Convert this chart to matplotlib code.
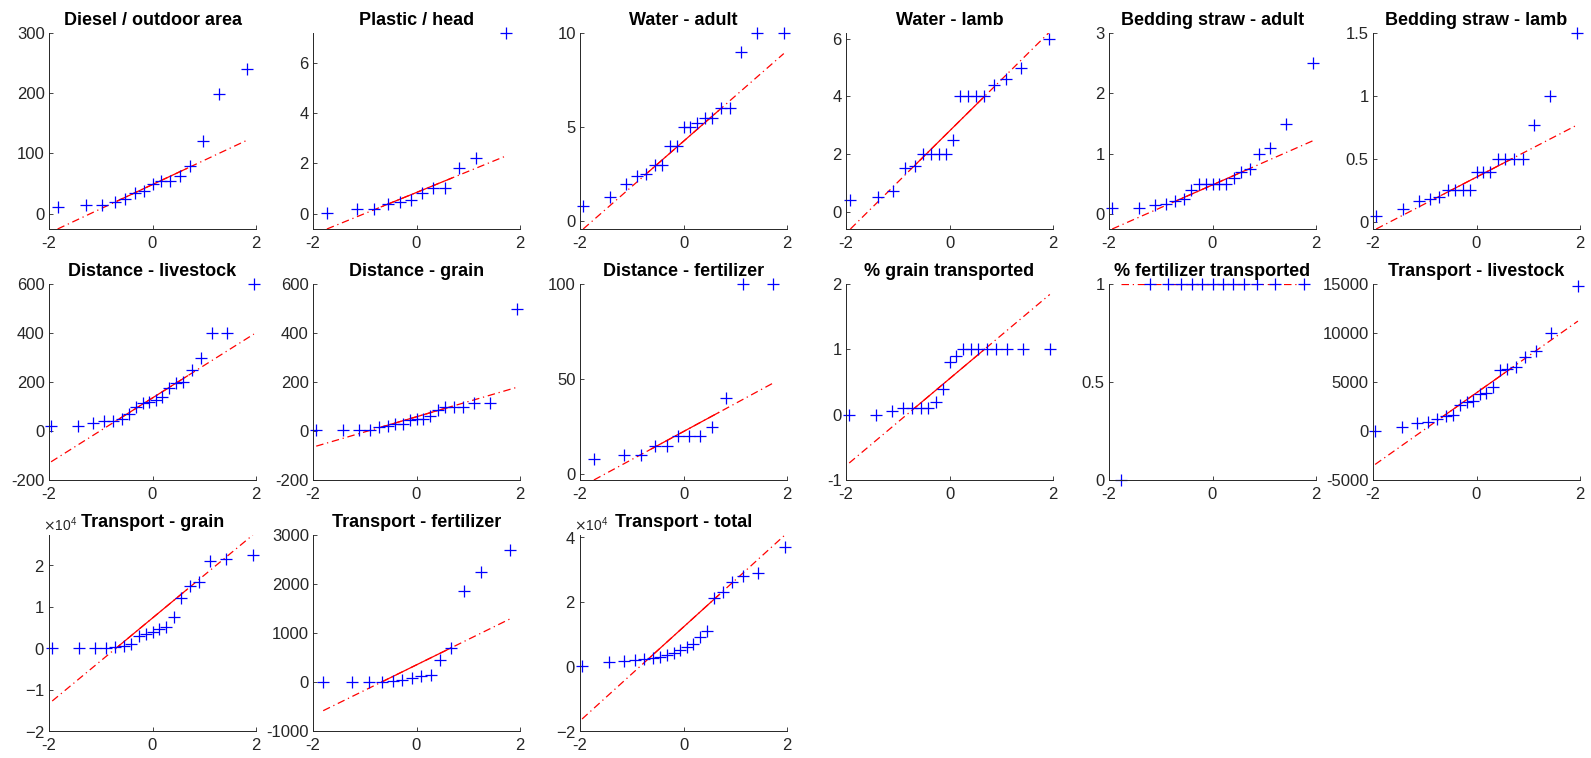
from statistics import NormalDist

import numpy as np
import matplotlib
matplotlib.use("Agg")
import matplotlib.pyplot as plt
from matplotlib.ticker import ScalarFormatter, FuncFormatter

plt.rcParams["font.family"] = ["Liberation Sans", "DejaVu Sans"]
plt.rcParams["axes.unicode_minus"] = False

# ---- survey values, one list per variable ----
diesel_outdoor = [12, 14, 15, 20, 25, 35, 37, 49, 54, 55, 63, 80, 120, 198, 240]
plastic_head = [0.04, 0.17, 0.17, 0.37, 0.47, 0.56, 0.83, 1.03, 1.03, 1.8, 2.2, 7.2]
water_adult = [0.8, 1.3, 2.0, 2.4, 2.5, 3.0, 3.0, 4.0, 4.0, 5.0, 5.0, 5.2, 5.5, 5.5,
               6.0, 6.0, 9.0, 10, 10]
water_lamb = [0.4, 0.5, 0.7, 1.5, 1.6, 2.0, 2.0, 2.0, 2.0, 2.5, 4.0, 4.0, 4.0, 4.0,
              4.4, 4.6, 5.0, 6.0]
straw_adult = [0.1, 0.1, 0.15, 0.17, 0.22, 0.25, 0.4, 0.5, 0.5, 0.5, 0.5, 0.5, 0.6,
               0.7, 0.75, 1.0, 1.1, 1.5, 2.5]
straw_lamb = [0.05, 0.1, 0.17, 0.18, 0.2, 0.25, 0.25, 0.25, 0.25, 0.4, 0.4, 0.4,
              0.5, 0.5, 0.5, 0.5, 0.77, 1.0, 1.5]
dist_livestock = [22, 22, 32, 40, 40, 50, 70, 100, 115, 120, 125, 140, 175, 195, 200,
                  250, 300, 400, 400, 600]
dist_grain = [5, 5, 5, 5, 15, 20, 27, 30, 43, 47, 48, 60, 85, 100, 100, 100, 115, 115,
              500]
dist_fertilizer = [8, 10, 10, 15, 15, 20, 20, 20, 25, 40, 100, 100]
pct_grain = [0, 0, 0.05, 0.1, 0.1, 0.1, 0.1, 0.2, 0.4, 0.8, 0.9, 1, 1, 1, 1, 1, 1, 1, 1]
pct_fertilizer = [0, 1, 1, 1, 1, 1, 1, 1, 1, 1, 1, 1, 1]
transp_livestock = [0, 450, 850, 950, 1200, 1550, 1600, 2700, 3000, 3050, 3800, 3900,
                    4500, 6200, 6350, 6500, 7600, 8200, 10000, 14800]
transp_grain = [0, 0, 50, 100, 200, 500, 1000, 3000, 3500, 4000, 4500, 5000, 7500,
                12000, 15000, 16000, 21000, 21500, 22500]
transp_fertilizer = [0, 0, 0, 0, 20, 50, 80, 120, 150, 450, 700, 1850, 2250, 2700]
transp_total = [0, 1500, 1800, 2000, 2200, 2500, 3000, 3500, 4000, 5000, 6000, 7000,
                9000, 11000, 21000, 23000, 26000, 28000, 29000, 37000]

titles = [
    "Diesel / outdoor area", "Plastic / head", "Water - adult", "Water - lamb",
    "Bedding straw - adult", "Bedding straw - lamb",
    "Distance - livestock", "Distance - grain", "Distance - fertilizer",
    "% grain transported", "% fertilizer transported", "Transport - livestock",
    "Transport - grain", "Transport - fertilizer", "Transport - total",
]
series = [
    diesel_outdoor, plastic_head, water_adult, water_lamb, straw_adult, straw_lamb,
    dist_livestock, dist_grain, dist_fertilizer, pct_grain, pct_fertilizer,
    transp_livestock, transp_grain, transp_fertilizer, transp_total,
]

# y limits (None = fit to points and reference line) and y ticks per panel
ylims = [
    (None, 300), (None, None), (None, None), (None, None), (None, 3), (None, None),
    (-200, 600), (-200, 600), (None, None), (-1, 2), (0, 1), (-5000, 15000),
    (-20000, None), (-1000, 3000), (-20000, None),
]
yticks = [
    [0, 100, 200, 300], [0, 2, 4, 6], [0, 5, 10], [0, 2, 4, 6], [0, 1, 2, 3],
    [0, 0.5, 1, 1.5],
    [-200, 0, 200, 400, 600], [-200, 0, 200, 400, 600], [0, 50, 100], [-1, 0, 1, 2],
    [0, 0.5, 1], [-5000, 0, 5000, 10000, 15000],
    [-20000, -10000, 0, 10000, 20000], [-1000, 0, 1000, 2000, 3000],
    [-20000, 0, 20000, 40000],
]
sci_panels = [12, 14]

# axes boxes in pixels: left edges per column, top/bottom per row
W, H = 1591, 758
col_left = [49, 313, 580, 846, 1109, 1373]
col_width = 207
row_top = [33, 284, 535]
row_height = 196

AX_COLOR = "#262626"


def matlabPrctile(v, p):
    v = np.sort(np.asarray(v, dtype=float))
    n = len(v)
    pos = n * p / 100.0 + 0.5
    pos = min(max(pos, 1.0), float(n))
    lo = int(np.floor(pos))
    if lo >= n:
        return v[-1]
    return v[lo - 1] + (pos - lo) * (v[lo] - v[lo - 1])


def qqData(values):
    y = np.sort(np.asarray(values, dtype=float))
    n = len(y)
    nd = NormalDist()
    x = np.array([nd.inv_cdf((i - 0.5) / n) for i in range(1, n + 1)])
    return x, y


def qqPlot(ax, values):
    x, y = qqData(values)
    q1x, q3x = matlabPrctile(x, 25), matlabPrctile(x, 75)
    q1y, q3y = matlabPrctile(y, 25), matlabPrctile(y, 75)
    slope = (q3y - q1y) / (q3x - q1x)
    xe = np.array([x.min(), x.max()])
    ye = q1y + slope * (xe - q1x)
    ax.plot(xe, ye, color="red", linestyle="-.", linewidth=0.9, dashes=(6, 3, 1, 3))
    ax.plot([q1x, q3x], [q1y, q3y], color="red", linestyle="-", linewidth=0.9)
    ax.plot(x, y, "+", color="blue", markersize=8, markeredgewidth=0.9, clip_on=False)
    lo = min(y.min(), ye.min())
    hi = max(y.max(), ye.max())
    return lo, hi


fig = plt.figure(figsize=(W / 100, H / 100), dpi=100)

for k, (title, vals) in enumerate(zip(titles, series)):
    r, c = divmod(k, 6)
    left = col_left[c] / W
    bottom = 1 - (row_top[r] + row_height) / H
    ax = fig.add_axes([left, bottom, col_width / W, row_height / H])
    lo, hi = qqPlot(ax, vals)
    ylo, yhi = ylims[k]
    ax.set_ylim(lo if ylo is None else ylo, hi if yhi is None else yhi)
    ax.set_xlim(-2, 2)
    ax.set_xticks([-2, 0, 2])
    ax.set_yticks(yticks[k])
    ax.xaxis.set_major_formatter(FuncFormatter(lambda v, p: "%g" % v))
    if k in sci_panels:
        fmt = ScalarFormatter(useMathText=True)
        fmt.set_powerlimits((0, 0))
        ax.yaxis.set_major_formatter(fmt)
        offset = ax.yaxis.get_offset_text()
        offset.set_fontsize(10)
        offset.set_color(AX_COLOR)
        offset.set_x(-0.03)
    else:
        ax.yaxis.set_major_formatter(FuncFormatter(lambda v, p: "%g" % v))
    for side in ["top", "right"]:
        ax.spines[side].set_visible(False)
    for side in ["left", "bottom"]:
        ax.spines[side].set_color(AX_COLOR)
        ax.spines[side].set_linewidth(0.7)
    ax.tick_params(direction="in", length=3, width=0.6, colors=AX_COLOR, labelsize=12)
    ax.tick_params(axis="x", pad=5)
    ax.tick_params(axis="y", pad=3)
    # fixed y keeps the title level even where an exponent label sits above the axis
    ax.set_title(title, fontsize=13, fontweight="bold", pad=6, y=1.0)

fig.savefig("out.png", dpi=100)
